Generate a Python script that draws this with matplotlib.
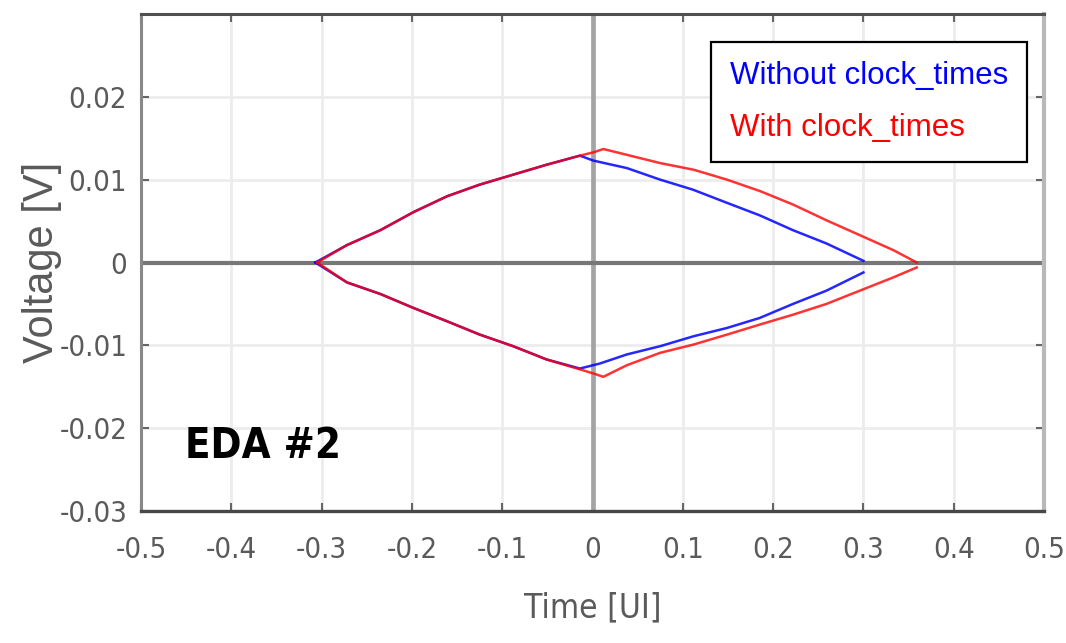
#!/usr/bin/env python3
"""Eye diagram comparison: with / without clock_times (EDA #2)."""

import matplotlib

matplotlib.use("Agg")
import matplotlib.pyplot as plt

# blue trace - without clock_times
blue_upper_x = [-0.307, -0.272, -0.235, -0.198, -0.161, -0.125, -0.088, -0.051, -0.014,
                0.001, 0.038, 0.075, 0.111, 0.149, 0.185, 0.222, 0.259, 0.300]
blue_upper_y = [0.0, 0.0021, 0.0039, 0.0061, 0.0080, 0.0094, 0.0106, 0.0118, 0.0129,
                0.0123, 0.0114, 0.0100, 0.0088, 0.0072, 0.0057, 0.0039, 0.0023, 0.0002]
blue_lower_x = [-0.307, -0.272, -0.235, -0.198, -0.161, -0.125, -0.088, -0.051, -0.014,
                0.008, 0.038, 0.075, 0.112, 0.149, 0.185, 0.222, 0.259, 0.300]
blue_lower_y = [0.0, -0.0024, -0.0038, -0.0055, -0.0071, -0.0087, -0.0101, -0.0117, -0.0128,
                -0.0122, -0.0111, -0.0101, -0.0089, -0.0079, -0.0067, -0.0050, -0.0034, -0.0012]

# red trace - with clock_times
red_upper_x = [-0.305, -0.272, -0.235, -0.198, -0.161, -0.125, -0.088, -0.051, -0.014,
               0.001, 0.012, 0.038, 0.075, 0.112, 0.149, 0.186, 0.222, 0.259, 0.296, 0.333, 0.359]
red_upper_y = [0.0, 0.0021, 0.0039, 0.0061, 0.0080, 0.0094, 0.0106, 0.0118, 0.0129,
               0.0133, 0.0137, 0.0130, 0.0120, 0.0112, 0.0100, 0.0086, 0.0070, 0.0051, 0.0033, 0.0015, 0.0]
red_lower_x = [-0.305, -0.272, -0.235, -0.198, -0.161, -0.125, -0.088, -0.051, -0.014,
               0.001, 0.012, 0.038, 0.075, 0.112, 0.149, 0.185, 0.222, 0.259, 0.296, 0.333, 0.359]
red_lower_y = [0.0, -0.0024, -0.0038, -0.0055, -0.0071, -0.0087, -0.0101, -0.0117, -0.0129,
               -0.0134, -0.0138, -0.0124, -0.0109, -0.0099, -0.0087, -0.0075, -0.0063, -0.0050, -0.0034, -0.0018, -0.0006]

x_ticks = [-0.5, -0.4, -0.3, -0.2, -0.1, 0.0, 0.1, 0.2, 0.3, 0.4, 0.5]
x_tick_labels = ["-0.5", "-0.4", "-0.3", "-0.2", "-0.1", "0", "0.1", "0.2", "0.3", "0.4", "0.5"]
y_ticks = [-0.03, -0.02, -0.01, 0.0, 0.01, 0.02]
y_tick_labels = ["-0.03", "-0.02", "-0.01", "0", "0.01", "0.02"]

REGULAR = ["Liberation Sans", "DejaVu Sans"]
LABEL_GRAY = "#5a5a5a"

fig = plt.figure(figsize=(10.66, 6.43), dpi=100)
fig.patch.set_facecolor("white")
ax = fig.add_axes([0.1323, 0.2053, 0.8471, 0.7729])

ax.set_xlim(-0.5, 0.5)
ax.set_ylim(-0.03, 0.03)

# grid + zero lines (zero lines must sit above the grid, which is drawn at 1.5)
ax.set_xticks(x_ticks)
ax.set_yticks(y_ticks + [0.03])
ax.grid(True, color="#ececec", linewidth=2.0)
ax.axvline(0, color="#a4a4a4", linewidth=3.4, zorder=2)
ax.axhline(0, color="#777777", linewidth=3.0, zorder=2)

ax.plot(blue_upper_x, blue_upper_y, color="#0000ff", linewidth=1.8, alpha=0.85, zorder=3,
        label="Without clock_times")
ax.plot(blue_lower_x, blue_lower_y, color="#0000ff", linewidth=1.8, alpha=0.85, zorder=3)
ax.plot(red_upper_x, red_upper_y, color="#ff0000", linewidth=1.8, alpha=0.8, zorder=4,
        label="With clock_times")
ax.plot(red_lower_x, red_lower_y, color="#ff0000", linewidth=1.8, alpha=0.8, zorder=4)

ax.set_xticks(x_ticks)
ax.set_xticklabels(x_tick_labels)
ax.set_yticks(y_ticks)
ax.set_yticklabels(y_tick_labels)
ax.tick_params(direction="in", length=6, width=1.5, color="#666666",
               top=True, right=True, labelsize=21, labelcolor=LABEL_GRAY)
ax.tick_params(axis="x", pad=18)
ax.tick_params(axis="y", pad=10)
for lab in ax.get_xticklabels() + ax.get_yticklabels():
    lab.set_family("DejaVu Sans")
    lab.set_fontstretch("condensed")

ax.spines["left"].set_color("#888888")
ax.spines["left"].set_linewidth(2.2)
ax.spines["top"].set_color("#505050")
ax.spines["top"].set_linewidth(2.2)
ax.spines["bottom"].set_color("#484848")
ax.spines["bottom"].set_linewidth(2.4)
ax.spines["right"].set_color("#b8b8b8")
ax.spines["right"].set_linewidth(3.0)

ax.set_xlabel("Time [UI]", fontsize=24, color=LABEL_GRAY, family="DejaVu Sans",
              fontstretch="condensed", labelpad=20)
ax.set_ylabel("Voltage [V]", fontsize=30, color=LABEL_GRAY, family=REGULAR, labelpad=-2)

leg = ax.legend(loc="upper right", bbox_to_anchor=(0.981, 0.944), borderaxespad=0,
                handlelength=0, handletextpad=0, fancybox=False, framealpha=1,
                edgecolor="black", prop={"family": REGULAR, "size": 22.5},
                labelspacing=0.72, borderpad=0.6)
leg.get_frame().set_linewidth(1.6)
for txt, col in zip(leg.get_texts(), ["#0000ff", "#ff0000"]):
    txt.set_color(col)

ax.text(0.049, 0.107, "EDA #2", transform=ax.transAxes, fontsize=30, fontweight="bold",
        family="DejaVu Sans", fontstretch="condensed", color="black", va="baseline", zorder=5)

fig.savefig("out.png", dpi=100)
